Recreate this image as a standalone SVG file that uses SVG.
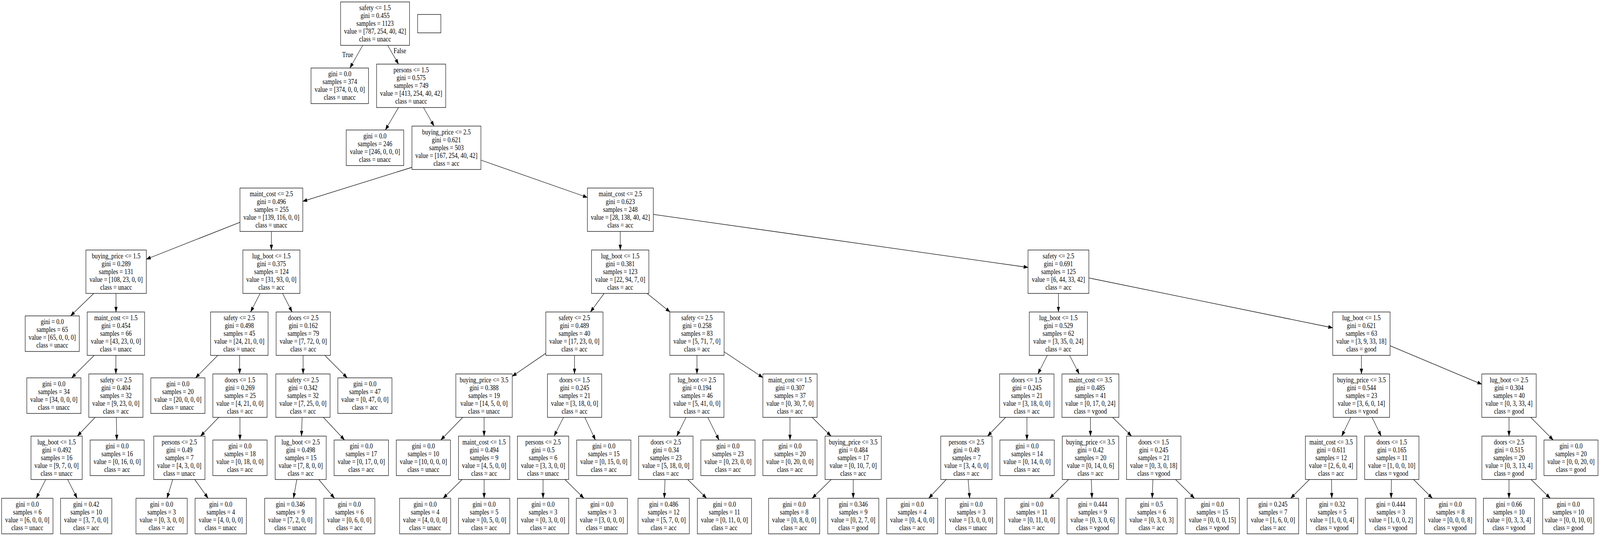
<svg xmlns="http://www.w3.org/2000/svg" width="4954" height="1371" viewBox="0 0 4954 1371" preserveAspectRatio="none">
<style>
:root{width:100vw;height:100vh}
rect{fill:#fff;stroke:#000;stroke-width:1.3}
text{font-family:"Liberation Serif","Times New Roman",serif;font-size:18.5px;text-anchor:middle;fill:#000}
.e line{stroke:#000;stroke-width:1.3;marker-end:url(#ah)}
</style>
<defs>
<marker id="ah" markerUnits="userSpaceOnUse" viewBox="0 0 14 10" markerWidth="14" markerHeight="10" refX="13.5" refY="5" orient="auto"><path d="M0,0 L14,5 L0,10 z" fill="#000"/></marker>
</defs>
<rect x="0" y="0" width="4954" height="1371" style="stroke:none"/>
<g id="edges" class="e">
<line x1="1123.1" y1="116" x2="1083.3" y2="174"/>
<line x1="1200.3" y1="116" x2="1234" y2="164"/>
<line x1="1233.8" y1="275" x2="1193.2" y2="332.5"/>
<line x1="1311.3" y1="275" x2="1344" y2="322.5"/>
<line x1="1275.5" y1="428" x2="937.5" y2="515"/>
<line x1="1489" y1="409.5" x2="1818.7" y2="505"/>
<line x1="743" y1="568.6" x2="453" y2="663"/>
<line x1="840.3" y1="592" x2="840.3" y2="639.5"/>
<line x1="1920.5" y1="592" x2="1920.5" y2="639.5"/>
<line x1="2022.8" y1="548.4" x2="3183" y2="684"/>
<line x1="290.3" y1="750.5" x2="218.5" y2="808"/>
<line x1="359.2" y1="750.5" x2="359.2" y2="798"/>
<line x1="805.5" y1="750.5" x2="775.8" y2="798"/>
<line x1="874.9" y1="750.5" x2="904.4" y2="798"/>
<line x1="1870.6" y1="750.5" x2="1828.1" y2="798"/>
<line x1="2003.5" y1="750.5" x2="2074.7" y2="798"/>
<line x1="3277.1" y1="750.5" x2="3277.1" y2="798"/>
<line x1="3371.4" y1="710.9" x2="4126.4" y2="838.5"/>
<line x1="291.6" y1="909" x2="221.9" y2="966.5"/>
<line x1="358.8" y1="909" x2="358.8" y2="956.5"/>
<line x1="674.4" y1="909" x2="605.4" y2="966.5"/>
<line x1="742" y1="909" x2="742" y2="956.5"/>
<line x1="938.5" y1="909" x2="938.5" y2="956.5"/>
<line x1="1005.8" y1="909" x2="1075" y2="966.5"/>
<line x1="1690" y1="903.6" x2="1586" y2="962.5"/>
<line x1="1778.8" y1="909" x2="1778.8" y2="956.5"/>
<line x1="2158" y1="909" x2="2158" y2="956.5"/>
<line x1="2242" y1="899.7" x2="2362" y2="965.8"/>
<line x1="3242.8" y1="909" x2="3213.5" y2="956.5"/>
<line x1="3311.7" y1="909" x2="3341.5" y2="956.5"/>
<line x1="4215.3" y1="909" x2="4215.3" y2="956.5"/>
<line x1="4304" y1="884.3" x2="4588" y2="982.8"/>
<line x1="294.5" y1="1067.5" x2="239.5" y2="1115.5"/>
<line x1="360.2" y1="1067.5" x2="361.6" y2="1125.5"/>
<line x1="677.3" y1="1067.5" x2="621" y2="1115.5"/>
<line x1="743" y1="1067.5" x2="743" y2="1125.5"/>
<line x1="935.5" y1="1067.5" x2="933.5" y2="1115.5"/>
<line x1="1001.2" y1="1067.5" x2="1066.8" y2="1125.5"/>
<line x1="1432.9" y1="1067.5" x2="1364.8" y2="1125.5"/>
<line x1="1498.9" y1="1067.5" x2="1498.9" y2="1115.5"/>
<line x1="1744.8" y1="1067.5" x2="1715.6" y2="1115.5"/>
<line x1="1810.7" y1="1067.5" x2="1843.6" y2="1125.5"/>
<line x1="2124.1" y1="1067.5" x2="2095.3" y2="1115.5"/>
<line x1="2191.4" y1="1067.5" x2="2226.3" y2="1125.5"/>
<line x1="2446" y1="1067.5" x2="2446" y2="1125.5"/>
<line x1="2514.5" y1="1067.5" x2="2573.1" y2="1115.5"/>
<line x1="3113.7" y1="1067.5" x2="3057.7" y2="1115.5"/>
<line x1="3179.6" y1="1067.5" x2="3179.6" y2="1125.5"/>
<line x1="3376.3" y1="1067.5" x2="3376.3" y2="1115.5"/>
<line x1="3444.8" y1="1067.5" x2="3503.6" y2="1115.5"/>
<line x1="4182.4" y1="1067.5" x2="4154.3" y2="1115.5"/>
<line x1="4248.2" y1="1067.5" x2="4276.4" y2="1115.5"/>
<line x1="4672.3" y1="1067.5" x2="4672.3" y2="1115.5"/>
<line x1="4739.4" y1="1067.5" x2="4809.1" y2="1125.5"/>
<line x1="141.5" y1="1226.5" x2="112.2" y2="1274.5"/>
<line x1="209.4" y1="1226.5" x2="238.9" y2="1274.5"/>
<line x1="534.8" y1="1226.5" x2="517.1" y2="1274.5"/>
<line x1="603" y1="1226.5" x2="644.3" y2="1274.5"/>
<line x1="919" y1="1226.5" x2="908.7" y2="1274.5"/>
<line x1="987.1" y1="1226.5" x2="1035.6" y2="1274.5"/>
<line x1="1430.9" y1="1226.5" x2="1372.1" y2="1274.5"/>
<line x1="1499" y1="1226.5" x2="1499" y2="1274.5"/>
<line x1="1681.4" y1="1226.5" x2="1681.4" y2="1274.5"/>
<line x1="1749.2" y1="1226.5" x2="1807.9" y2="1274.5"/>
<line x1="2059.1" y1="1226.5" x2="2056.9" y2="1274.5"/>
<line x1="2129.2" y1="1226.5" x2="2187.6" y2="1274.5"/>
<line x1="2573.6" y1="1226.5" x2="2514.7" y2="1274.5"/>
<line x1="2641.8" y1="1226.5" x2="2641.8" y2="1274.5"/>
<line x1="2929.7" y1="1226.5" x2="2875.6" y2="1274.5"/>
<line x1="2997.6" y1="1226.5" x2="3002.3" y2="1274.5"/>
<line x1="3308.7" y1="1226.5" x2="3250.2" y2="1274.5"/>
<line x1="3378.9" y1="1226.5" x2="3381.1" y2="1274.5"/>
<line x1="3569.7" y1="1226.5" x2="3567.5" y2="1274.5"/>
<line x1="3639.8" y1="1226.5" x2="3698.2" y2="1274.5"/>
<line x1="4054.4" y1="1226.5" x2="3996.3" y2="1274.5"/>
<line x1="4122.6" y1="1226.5" x2="4123.6" y2="1274.5"/>
<line x1="4308.2" y1="1226.5" x2="4307.3" y2="1274.5"/>
<line x1="4376.7" y1="1226.5" x2="4435" y2="1274.5"/>
<line x1="4672.2" y1="1226.5" x2="4672.2" y2="1274.5"/>
<line x1="4740.7" y1="1226.5" x2="4799.8" y2="1274.5"/>
</g>
<g id="edge-labels">
<text x="1076.5" y="146">True</text>
<text x="1238" y="136">False</text>
</g>
<g id="legend"><rect x="1293" y="37" width="72" height="47"/></g>
<g id="n0"><rect x="1054.5" y="5" width="213.5" height="111"/><text x="1161.25" y="26.5"><tspan x="1161.25">safety &lt;= 1.5</tspan><tspan x="1161.25" dy="20">gini = 0.455</tspan><tspan x="1161.25" dy="20">samples = 1123</tspan><tspan x="1161.25" dy="20">value = [787, 254, 40, 42]</tspan><tspan x="1161.25" dy="20">class = unacc</tspan></text></g>
<g id="n1"><rect x="963" y="174" width="178" height="91"/><text x="1052" y="195.5"><tspan x="1052">gini = 0.0</tspan><tspan x="1052" dy="20">samples = 374</tspan><tspan x="1052" dy="20">value = [374, 0, 0, 0]</tspan><tspan x="1052" dy="20">class = unacc</tspan></text></g>
<g id="n2"><rect x="1166" y="164" width="214" height="111"/><text x="1273" y="185.5"><tspan x="1273">persons &lt;= 1.5</tspan><tspan x="1273" dy="20">gini = 0.575</tspan><tspan x="1273" dy="20">samples = 749</tspan><tspan x="1273" dy="20">value = [413, 254, 40, 42]</tspan><tspan x="1273" dy="20">class = unacc</tspan></text></g>
<g id="n3"><rect x="1072" y="332.5" width="178" height="91"/><text x="1161" y="354"><tspan x="1161">gini = 0.0</tspan><tspan x="1161" dy="20">samples = 246</tspan><tspan x="1161" dy="20">value = [246, 0, 0, 0]</tspan><tspan x="1161" dy="20">class = unacc</tspan></text></g>
<g id="n4"><rect x="1275.5" y="322.5" width="213.5" height="111"/><text x="1382.25" y="344"><tspan x="1382.25">buying_price &lt;= 2.5</tspan><tspan x="1382.25" dy="20">gini = 0.621</tspan><tspan x="1382.25" dy="20">samples = 503</tspan><tspan x="1382.25" dy="20">value = [167, 254, 40, 42]</tspan><tspan x="1382.25" dy="20">class = acc</tspan></text></g>
<g id="n5"><rect x="743" y="481" width="194.5" height="111"/><text x="840.25" y="502.5"><tspan x="840.25">maint_cost &lt;= 2.5</tspan><tspan x="840.25" dy="20">gini = 0.496</tspan><tspan x="840.25" dy="20">samples = 255</tspan><tspan x="840.25" dy="20">value = [139, 116, 0, 0]</tspan><tspan x="840.25" dy="20">class = unacc</tspan></text></g>
<g id="n6"><rect x="1818.7" y="481" width="204.1" height="111"/><text x="1920.75" y="502.5"><tspan x="1920.75">maint_cost &lt;= 2.5</tspan><tspan x="1920.75" dy="20">gini = 0.623</tspan><tspan x="1920.75" dy="20">samples = 248</tspan><tspan x="1920.75" dy="20">value = [28, 138, 40, 42]</tspan><tspan x="1920.75" dy="20">class = acc</tspan></text></g>
<g id="n7"><rect x="266" y="639.5" width="187" height="111"/><text x="359.5" y="661"><tspan x="359.5">buying_price &lt;= 1.5</tspan><tspan x="359.5" dy="20">gini = 0.289</tspan><tspan x="359.5" dy="20">samples = 131</tspan><tspan x="359.5" dy="20">value = [108, 23, 0, 0]</tspan><tspan x="359.5" dy="20">class = unacc</tspan></text></g>
<g id="n8"><rect x="752" y="639.5" width="176.6" height="111"/><text x="840.3" y="661"><tspan x="840.3">lug_boot &lt;= 1.5</tspan><tspan x="840.3" dy="20">gini = 0.375</tspan><tspan x="840.3" dy="20">samples = 124</tspan><tspan x="840.3" dy="20">value = [31, 93, 0, 0]</tspan><tspan x="840.3" dy="20">class = acc</tspan></text></g>
<g id="n9"><rect x="1831.5" y="639.5" width="177.5" height="111"/><text x="1920.25" y="661"><tspan x="1920.25">lug_boot &lt;= 1.5</tspan><tspan x="1920.25" dy="20">gini = 0.381</tspan><tspan x="1920.25" dy="20">samples = 123</tspan><tspan x="1920.25" dy="20">value = [22, 94, 7, 0]</tspan><tspan x="1920.25" dy="20">class = acc</tspan></text></g>
<g id="n10"><rect x="3183" y="639.5" width="188.4" height="111"/><text x="3277.2" y="661"><tspan x="3277.2">safety &lt;= 2.5</tspan><tspan x="3277.2" dy="20">gini = 0.691</tspan><tspan x="3277.2" dy="20">samples = 125</tspan><tspan x="3277.2" dy="20">value = [6, 44, 33, 42]</tspan><tspan x="3277.2" dy="20">class = acc</tspan></text></g>
<g id="n11"><rect x="78" y="808" width="167.5" height="91"/><text x="161.75" y="829.5"><tspan x="161.75">gini = 0.0</tspan><tspan x="161.75" dy="20">samples = 65</tspan><tspan x="161.75" dy="20">value = [65, 0, 0, 0]</tspan><tspan x="161.75" dy="20">class = unacc</tspan></text></g>
<g id="n12"><rect x="270" y="798" width="177.7" height="111"/><text x="358.85" y="819.5"><tspan x="358.85">maint_cost &lt;= 1.5</tspan><tspan x="358.85" dy="20">gini = 0.454</tspan><tspan x="358.85" dy="20">samples = 66</tspan><tspan x="358.85" dy="20">value = [43, 23, 0, 0]</tspan><tspan x="358.85" dy="20">class = unacc</tspan></text></g>
<g id="n13"><rect x="652" y="798" width="178" height="111"/><text x="741" y="819.5"><tspan x="741">safety &lt;= 2.5</tspan><tspan x="741" dy="20">gini = 0.498</tspan><tspan x="741" dy="20">samples = 45</tspan><tspan x="741" dy="20">value = [24, 21, 0, 0]</tspan><tspan x="741" dy="20">class = unacc</tspan></text></g>
<g id="n14"><rect x="855" y="798" width="168" height="111"/><text x="939" y="819.5"><tspan x="939">doors &lt;= 2.5</tspan><tspan x="939" dy="20">gini = 0.162</tspan><tspan x="939" dy="20">samples = 79</tspan><tspan x="939" dy="20">value = [7, 72, 0, 0]</tspan><tspan x="939" dy="20">class = acc</tspan></text></g>
<g id="n15"><rect x="1690" y="798" width="177" height="111"/><text x="1778.5" y="819.5"><tspan x="1778.5">safety &lt;= 2.5</tspan><tspan x="1778.5" dy="20">gini = 0.489</tspan><tspan x="1778.5" dy="20">samples = 40</tspan><tspan x="1778.5" dy="20">value = [17, 23, 0, 0]</tspan><tspan x="1778.5" dy="20">class = acc</tspan></text></g>
<g id="n16"><rect x="2074" y="798" width="168" height="111"/><text x="2158" y="819.5"><tspan x="2158">safety &lt;= 2.5</tspan><tspan x="2158" dy="20">gini = 0.258</tspan><tspan x="2158" dy="20">samples = 83</tspan><tspan x="2158" dy="20">value = [5, 71, 7, 0]</tspan><tspan x="2158" dy="20">class = acc</tspan></text></g>
<g id="n17"><rect x="3187" y="798" width="180" height="111"/><text x="3277" y="819.5"><tspan x="3277">lug_boot &lt;= 1.5</tspan><tspan x="3277" dy="20">gini = 0.529</tspan><tspan x="3277" dy="20">samples = 62</tspan><tspan x="3277" dy="20">value = [3, 35, 0, 24]</tspan><tspan x="3277" dy="20">class = acc</tspan></text></g>
<g id="n18"><rect x="4126.4" y="798" width="177.6" height="111"/><text x="4215.2" y="819.5"><tspan x="4215.2">lug_boot &lt;= 1.5</tspan><tspan x="4215.2" dy="20">gini = 0.621</tspan><tspan x="4215.2" dy="20">samples = 63</tspan><tspan x="4215.2" dy="20">value = [3, 9, 33, 18]</tspan><tspan x="4215.2" dy="20">class = good</tspan></text></g>
<g id="n19"><rect x="83" y="966.5" width="167.6" height="91"/><text x="166.8" y="988"><tspan x="166.8">gini = 0.0</tspan><tspan x="166.8" dy="20">samples = 34</tspan><tspan x="166.8" dy="20">value = [34, 0, 0, 0]</tspan><tspan x="166.8" dy="20">class = unacc</tspan></text></g>
<g id="n20"><rect x="275" y="956.5" width="167.6" height="111"/><text x="358.8" y="978"><tspan x="358.8">safety &lt;= 2.5</tspan><tspan x="358.8" dy="20">gini = 0.404</tspan><tspan x="358.8" dy="20">samples = 32</tspan><tspan x="358.8" dy="20">value = [9, 23, 0, 0]</tspan><tspan x="358.8" dy="20">class = acc</tspan></text></g>
<g id="n21"><rect x="467" y="966.5" width="167.6" height="91"/><text x="550.8" y="988"><tspan x="550.8">gini = 0.0</tspan><tspan x="550.8" dy="20">samples = 20</tspan><tspan x="550.8" dy="20">value = [20, 0, 0, 0]</tspan><tspan x="550.8" dy="20">class = unacc</tspan></text></g>
<g id="n22"><rect x="659" y="956.5" width="168" height="111"/><text x="743" y="978"><tspan x="743">doors &lt;= 1.5</tspan><tspan x="743" dy="20">gini = 0.269</tspan><tspan x="743" dy="20">samples = 25</tspan><tspan x="743" dy="20">value = [4, 21, 0, 0]</tspan><tspan x="743" dy="20">class = acc</tspan></text></g>
<g id="n23"><rect x="854" y="956.5" width="168" height="111"/><text x="938" y="978"><tspan x="938">safety &lt;= 2.5</tspan><tspan x="938" dy="20">gini = 0.342</tspan><tspan x="938" dy="20">samples = 32</tspan><tspan x="938" dy="20">value = [7, 25, 0, 0]</tspan><tspan x="938" dy="20">class = acc</tspan></text></g>
<g id="n24"><rect x="1046" y="966.5" width="167.6" height="91"/><text x="1129.8" y="988"><tspan x="1129.8">gini = 0.0</tspan><tspan x="1129.8" dy="20">samples = 47</tspan><tspan x="1129.8" dy="20">value = [0, 47, 0, 0]</tspan><tspan x="1129.8" dy="20">class = acc</tspan></text></g>
<g id="n25"><rect x="1411.4" y="956.5" width="174.6" height="111"/><text x="1498.7" y="978"><tspan x="1498.7">buying_price &lt;= 3.5</tspan><tspan x="1498.7" dy="20">gini = 0.388</tspan><tspan x="1498.7" dy="20">samples = 19</tspan><tspan x="1498.7" dy="20">value = [14, 5, 0, 0]</tspan><tspan x="1498.7" dy="20">class = unacc</tspan></text></g>
<g id="n26"><rect x="1695" y="956.5" width="168" height="111"/><text x="1779" y="978"><tspan x="1779">doors &lt;= 1.5</tspan><tspan x="1779" dy="20">gini = 0.245</tspan><tspan x="1779" dy="20">samples = 21</tspan><tspan x="1779" dy="20">value = [3, 18, 0, 0]</tspan><tspan x="1779" dy="20">class = acc</tspan></text></g>
<g id="n27"><rect x="2074" y="956.5" width="167.5" height="111"/><text x="2157.75" y="978"><tspan x="2157.75">lug_boot &lt;= 2.5</tspan><tspan x="2157.75" dy="20">gini = 0.194</tspan><tspan x="2157.75" dy="20">samples = 46</tspan><tspan x="2157.75" dy="20">value = [5, 41, 0, 0]</tspan><tspan x="2157.75" dy="20">class = acc</tspan></text></g>
<g id="n28"><rect x="2362" y="956.5" width="168" height="111"/><text x="2446" y="978"><tspan x="2446">maint_cost &lt;= 1.5</tspan><tspan x="2446" dy="20">gini = 0.307</tspan><tspan x="2446" dy="20">samples = 37</tspan><tspan x="2446" dy="20">value = [0, 30, 7, 0]</tspan><tspan x="2446" dy="20">class = acc</tspan></text></g>
<g id="n29"><rect x="3095" y="956.5" width="168.5" height="111"/><text x="3179.25" y="978"><tspan x="3179.25">doors &lt;= 1.5</tspan><tspan x="3179.25" dy="20">gini = 0.245</tspan><tspan x="3179.25" dy="20">samples = 21</tspan><tspan x="3179.25" dy="20">value = [3, 18, 0, 0]</tspan><tspan x="3179.25" dy="20">class = acc</tspan></text></g>
<g id="n30"><rect x="3288" y="956.5" width="176.4" height="111"/><text x="3376.2" y="978"><tspan x="3376.2">maint_cost &lt;= 3.5</tspan><tspan x="3376.2" dy="20">gini = 0.485</tspan><tspan x="3376.2" dy="20">samples = 41</tspan><tspan x="3376.2" dy="20">value = [0, 17, 0, 24]</tspan><tspan x="3376.2" dy="20">class = vgood</tspan></text></g>
<g id="n31"><rect x="4128" y="956.5" width="174.6" height="111"/><text x="4215.3" y="978"><tspan x="4215.3">buying_price &lt;= 3.5</tspan><tspan x="4215.3" dy="20">gini = 0.544</tspan><tspan x="4215.3" dy="20">samples = 23</tspan><tspan x="4215.3" dy="20">value = [3, 6, 0, 14]</tspan><tspan x="4215.3" dy="20">class = vgood</tspan></text></g>
<g id="n32"><rect x="4588" y="956.5" width="168.4" height="111"/><text x="4672.2" y="978"><tspan x="4672.2">lug_boot &lt;= 2.5</tspan><tspan x="4672.2" dy="20">gini = 0.304</tspan><tspan x="4672.2" dy="20">samples = 40</tspan><tspan x="4672.2" dy="20">value = [0, 3, 33, 4]</tspan><tspan x="4672.2" dy="20">class = good</tspan></text></g>
<g id="n33"><rect x="96" y="1115.5" width="158.5" height="111"/><text x="175.25" y="1137"><tspan x="175.25">lug_boot &lt;= 1.5</tspan><tspan x="175.25" dy="20">gini = 0.492</tspan><tspan x="175.25" dy="20">samples = 16</tspan><tspan x="175.25" dy="20">value = [9, 7, 0, 0]</tspan><tspan x="175.25" dy="20">class = unacc</tspan></text></g>
<g id="n34"><rect x="279" y="1125.5" width="167.4" height="91"/><text x="362.7" y="1147"><tspan x="362.7">gini = 0.0</tspan><tspan x="362.7" dy="20">samples = 16</tspan><tspan x="362.7" dy="20">value = [0, 16, 0, 0]</tspan><tspan x="362.7" dy="20">class = acc</tspan></text></g>
<g id="n35"><rect x="476" y="1115.5" width="158.6" height="111"/><text x="555.3" y="1137"><tspan x="555.3">persons &lt;= 2.5</tspan><tspan x="555.3" dy="20">gini = 0.49</tspan><tspan x="555.3" dy="20">samples = 7</tspan><tspan x="555.3" dy="20">value = [4, 3, 0, 0]</tspan><tspan x="555.3" dy="20">class = unacc</tspan></text></g>
<g id="n36"><rect x="659" y="1125.5" width="168" height="91"/><text x="743" y="1147"><tspan x="743">gini = 0.0</tspan><tspan x="743" dy="20">samples = 18</tspan><tspan x="743" dy="20">value = [0, 18, 0, 0]</tspan><tspan x="743" dy="20">class = acc</tspan></text></g>
<g id="n37"><rect x="852" y="1115.5" width="158" height="111"/><text x="931" y="1137"><tspan x="931">lug_boot &lt;= 2.5</tspan><tspan x="931" dy="20">gini = 0.498</tspan><tspan x="931" dy="20">samples = 15</tspan><tspan x="931" dy="20">value = [7, 8, 0, 0]</tspan><tspan x="931" dy="20">class = acc</tspan></text></g>
<g id="n38"><rect x="1034.4" y="1125.5" width="168.4" height="91"/><text x="1118.6" y="1147"><tspan x="1118.6">gini = 0.0</tspan><tspan x="1118.6" dy="20">samples = 17</tspan><tspan x="1118.6" dy="20">value = [0, 17, 0, 0]</tspan><tspan x="1118.6" dy="20">class = acc</tspan></text></g>
<g id="n39"><rect x="1227" y="1125.5" width="167.8" height="91"/><text x="1310.9" y="1147"><tspan x="1310.9">gini = 0.0</tspan><tspan x="1310.9" dy="20">samples = 10</tspan><tspan x="1310.9" dy="20">value = [10, 0, 0, 0]</tspan><tspan x="1310.9" dy="20">class = unacc</tspan></text></g>
<g id="n40"><rect x="1419.6" y="1115.5" width="158.8" height="111"/><text x="1499" y="1137"><tspan x="1499">maint_cost &lt;= 1.5</tspan><tspan x="1499" dy="20">gini = 0.494</tspan><tspan x="1499" dy="20">samples = 9</tspan><tspan x="1499" dy="20">value = [4, 5, 0, 0]</tspan><tspan x="1499" dy="20">class = acc</tspan></text></g>
<g id="n41"><rect x="1602" y="1115.5" width="158.8" height="111"/><text x="1681.4" y="1137"><tspan x="1681.4">persons &lt;= 2.5</tspan><tspan x="1681.4" dy="20">gini = 0.5</tspan><tspan x="1681.4" dy="20">samples = 6</tspan><tspan x="1681.4" dy="20">value = [3, 3, 0, 0]</tspan><tspan x="1681.4" dy="20">class = unacc</tspan></text></g>
<g id="n42"><rect x="1785.7" y="1125.5" width="167.7" height="91"/><text x="1869.55" y="1147"><tspan x="1869.55">gini = 0.0</tspan><tspan x="1869.55" dy="20">samples = 15</tspan><tspan x="1869.55" dy="20">value = [0, 15, 0, 0]</tspan><tspan x="1869.55" dy="20">class = acc</tspan></text></g>
<g id="n43"><rect x="1977.4" y="1115.5" width="168.4" height="111"/><text x="2061.6" y="1137"><tspan x="2061.6">doors &lt;= 2.5</tspan><tspan x="2061.6" dy="20">gini = 0.34</tspan><tspan x="2061.6" dy="20">samples = 23</tspan><tspan x="2061.6" dy="20">value = [5, 18, 0, 0]</tspan><tspan x="2061.6" dy="20">class = acc</tspan></text></g>
<g id="n44"><rect x="2170" y="1125.5" width="167.8" height="91"/><text x="2253.9" y="1147"><tspan x="2253.9">gini = 0.0</tspan><tspan x="2253.9" dy="20">samples = 23</tspan><tspan x="2253.9" dy="20">value = [0, 23, 0, 0]</tspan><tspan x="2253.9" dy="20">class = acc</tspan></text></g>
<g id="n45"><rect x="2362" y="1125.5" width="167.7" height="91"/><text x="2445.85" y="1147"><tspan x="2445.85">gini = 0.0</tspan><tspan x="2445.85" dy="20">samples = 20</tspan><tspan x="2445.85" dy="20">value = [0, 20, 0, 0]</tspan><tspan x="2445.85" dy="20">class = acc</tspan></text></g>
<g id="n46"><rect x="2554.6" y="1115.5" width="174.1" height="111"/><text x="2641.65" y="1137"><tspan x="2641.65">buying_price &lt;= 3.5</tspan><tspan x="2641.65" dy="20">gini = 0.484</tspan><tspan x="2641.65" dy="20">samples = 17</tspan><tspan x="2641.65" dy="20">value = [0, 10, 7, 0]</tspan><tspan x="2641.65" dy="20">class = acc</tspan></text></g>
<g id="n47"><rect x="2912.8" y="1115.5" width="158.8" height="111"/><text x="2992.2" y="1137"><tspan x="2992.2">persons &lt;= 2.5</tspan><tspan x="2992.2" dy="20">gini = 0.49</tspan><tspan x="2992.2" dy="20">samples = 7</tspan><tspan x="2992.2" dy="20">value = [3, 4, 0, 0]</tspan><tspan x="2992.2" dy="20">class = acc</tspan></text></g>
<g id="n48"><rect x="3095.8" y="1125.5" width="168.4" height="91"/><text x="3180" y="1147"><tspan x="3180">gini = 0.0</tspan><tspan x="3180" dy="20">samples = 14</tspan><tspan x="3180" dy="20">value = [0, 14, 0, 0]</tspan><tspan x="3180" dy="20">class = acc</tspan></text></g>
<g id="n49"><rect x="3289" y="1115.5" width="174.8" height="111"/><text x="3376.4" y="1137"><tspan x="3376.4">buying_price &lt;= 3.5</tspan><tspan x="3376.4" dy="20">gini = 0.42</tspan><tspan x="3376.4" dy="20">samples = 20</tspan><tspan x="3376.4" dy="20">value = [0, 14, 0, 6]</tspan><tspan x="3376.4" dy="20">class = acc</tspan></text></g>
<g id="n50"><rect x="3488" y="1115.5" width="168.4" height="111"/><text x="3572.2" y="1137"><tspan x="3572.2">doors &lt;= 1.5</tspan><tspan x="3572.2" dy="20">gini = 0.245</tspan><tspan x="3572.2" dy="20">samples = 21</tspan><tspan x="3572.2" dy="20">value = [0, 3, 0, 18]</tspan><tspan x="3572.2" dy="20">class = vgood</tspan></text></g>
<g id="n51"><rect x="4041.8" y="1115.5" width="159.3" height="111"/><text x="4121.45" y="1137"><tspan x="4121.45">maint_cost &lt;= 3.5</tspan><tspan x="4121.45" dy="20">gini = 0.611</tspan><tspan x="4121.45" dy="20">samples = 12</tspan><tspan x="4121.45" dy="20">value = [2, 6, 0, 4]</tspan><tspan x="4121.45" dy="20">class = acc</tspan></text></g>
<g id="n52"><rect x="4225.3" y="1115.5" width="168.1" height="111"/><text x="4309.35" y="1137"><tspan x="4309.35">doors &lt;= 1.5</tspan><tspan x="4309.35" dy="20">gini = 0.165</tspan><tspan x="4309.35" dy="20">samples = 11</tspan><tspan x="4309.35" dy="20">value = [1, 0, 0, 10]</tspan><tspan x="4309.35" dy="20">class = vgood</tspan></text></g>
<g id="n53"><rect x="4588.3" y="1115.5" width="168.1" height="111"/><text x="4672.35" y="1137"><tspan x="4672.35">doors &lt;= 2.5</tspan><tspan x="4672.35" dy="20">gini = 0.515</tspan><tspan x="4672.35" dy="20">samples = 20</tspan><tspan x="4672.35" dy="20">value = [0, 3, 13, 4]</tspan><tspan x="4672.35" dy="20">class = good</tspan></text></g>
<g id="n54"><rect x="4780.5" y="1125.5" width="167.4" height="91"/><text x="4864.2" y="1147"><tspan x="4864.2">gini = 0.0</tspan><tspan x="4864.2" dy="20">samples = 20</tspan><tspan x="4864.2" dy="20">value = [0, 0, 20, 0]</tspan><tspan x="4864.2" dy="20">class = good</tspan></text></g>
<g id="n55"><rect x="5" y="1274.5" width="159" height="91"/><text x="84.5" y="1296"><tspan x="84.5">gini = 0.0</tspan><tspan x="84.5" dy="20">samples = 6</tspan><tspan x="84.5" dy="20">value = [6, 0, 0, 0]</tspan><tspan x="84.5" dy="20">class = unacc</tspan></text></g>
<g id="n56"><rect x="187.5" y="1274.5" width="158.8" height="91"/><text x="266.9" y="1296"><tspan x="266.9">gini = 0.42</tspan><tspan x="266.9" dy="20">samples = 10</tspan><tspan x="266.9" dy="20">value = [3, 7, 0, 0]</tspan><tspan x="266.9" dy="20">class = acc</tspan></text></g>
<g id="n57"><rect x="421" y="1274.5" width="158.7" height="91"/><text x="500.35" y="1296"><tspan x="500.35">gini = 0.0</tspan><tspan x="500.35" dy="20">samples = 3</tspan><tspan x="500.35" dy="20">value = [0, 3, 0, 0]</tspan><tspan x="500.35" dy="20">class = acc</tspan></text></g>
<g id="n58"><rect x="604" y="1274.5" width="158.8" height="91"/><text x="683.4" y="1296"><tspan x="683.4">gini = 0.0</tspan><tspan x="683.4" dy="20">samples = 4</tspan><tspan x="683.4" dy="20">value = [4, 0, 0, 0]</tspan><tspan x="683.4" dy="20">class = unacc</tspan></text></g>
<g id="n59"><rect x="819.5" y="1274.5" width="158.8" height="91"/><text x="898.9" y="1296"><tspan x="898.9">gini = 0.346</tspan><tspan x="898.9" dy="20">samples = 9</tspan><tspan x="898.9" dy="20">value = [7, 2, 0, 0]</tspan><tspan x="898.9" dy="20">class = unacc</tspan></text></g>
<g id="n60"><rect x="1002.6" y="1274.5" width="158.1" height="91"/><text x="1081.65" y="1296"><tspan x="1081.65">gini = 0.0</tspan><tspan x="1081.65" dy="20">samples = 6</tspan><tspan x="1081.65" dy="20">value = [0, 6, 0, 0]</tspan><tspan x="1081.65" dy="20">class = acc</tspan></text></g>
<g id="n61"><rect x="1237.2" y="1274.5" width="158.2" height="91"/><text x="1316.3" y="1296"><tspan x="1316.3">gini = 0.0</tspan><tspan x="1316.3" dy="20">samples = 4</tspan><tspan x="1316.3" dy="20">value = [4, 0, 0, 0]</tspan><tspan x="1316.3" dy="20">class = unacc</tspan></text></g>
<g id="n62"><rect x="1419.6" y="1274.5" width="158.8" height="91"/><text x="1499" y="1296"><tspan x="1499">gini = 0.0</tspan><tspan x="1499" dy="20">samples = 5</tspan><tspan x="1499" dy="20">value = [0, 5, 0, 0]</tspan><tspan x="1499" dy="20">class = acc</tspan></text></g>
<g id="n63"><rect x="1602" y="1274.5" width="158.8" height="91"/><text x="1681.4" y="1296"><tspan x="1681.4">gini = 0.0</tspan><tspan x="1681.4" dy="20">samples = 3</tspan><tspan x="1681.4" dy="20">value = [0, 3, 0, 0]</tspan><tspan x="1681.4" dy="20">class = acc</tspan></text></g>
<g id="n64"><rect x="1784.4" y="1274.5" width="158.2" height="91"/><text x="1863.5" y="1296"><tspan x="1863.5">gini = 0.0</tspan><tspan x="1863.5" dy="20">samples = 3</tspan><tspan x="1863.5" dy="20">value = [3, 0, 0, 0]</tspan><tspan x="1863.5" dy="20">class = unacc</tspan></text></g>
<g id="n65"><rect x="1975.5" y="1274.5" width="158.8" height="91"/><text x="2054.9" y="1296"><tspan x="2054.9">gini = 0.486</tspan><tspan x="2054.9" dy="20">samples = 12</tspan><tspan x="2054.9" dy="20">value = [5, 7, 0, 0]</tspan><tspan x="2054.9" dy="20">class = acc</tspan></text></g>
<g id="n66"><rect x="2159.2" y="1274.5" width="167.7" height="91"/><text x="2243.05" y="1296"><tspan x="2243.05">gini = 0.0</tspan><tspan x="2243.05" dy="20">samples = 11</tspan><tspan x="2243.05" dy="20">value = [0, 11, 0, 0]</tspan><tspan x="2243.05" dy="20">class = acc</tspan></text></g>
<g id="n67"><rect x="2379.8" y="1274.5" width="158.2" height="91"/><text x="2458.9" y="1296"><tspan x="2458.9">gini = 0.0</tspan><tspan x="2458.9" dy="20">samples = 8</tspan><tspan x="2458.9" dy="20">value = [0, 8, 0, 0]</tspan><tspan x="2458.9" dy="20">class = acc</tspan></text></g>
<g id="n68"><rect x="2562.9" y="1274.5" width="158.1" height="91"/><text x="2641.95" y="1296"><tspan x="2641.95">gini = 0.346</tspan><tspan x="2641.95" dy="20">samples = 9</tspan><tspan x="2641.95" dy="20">value = [0, 2, 7, 0]</tspan><tspan x="2641.95" dy="20">class = good</tspan></text></g>
<g id="n69"><rect x="2745.3" y="1274.5" width="158.1" height="91"/><text x="2824.35" y="1296"><tspan x="2824.35">gini = 0.0</tspan><tspan x="2824.35" dy="20">samples = 4</tspan><tspan x="2824.35" dy="20">value = [0, 4, 0, 0]</tspan><tspan x="2824.35" dy="20">class = acc</tspan></text></g>
<g id="n70"><rect x="2927.4" y="1274.5" width="158.8" height="91"/><text x="3006.8" y="1296"><tspan x="3006.8">gini = 0.0</tspan><tspan x="3006.8" dy="20">samples = 3</tspan><tspan x="3006.8" dy="20">value = [3, 0, 0, 0]</tspan><tspan x="3006.8" dy="20">class = unacc</tspan></text></g>
<g id="n71"><rect x="3110.5" y="1274.5" width="168.3" height="91"/><text x="3194.65" y="1296"><tspan x="3194.65">gini = 0.0</tspan><tspan x="3194.65" dy="20">samples = 11</tspan><tspan x="3194.65" dy="20">value = [0, 11, 0, 0]</tspan><tspan x="3194.65" dy="20">class = acc</tspan></text></g>
<g id="n72"><rect x="3303.7" y="1274.5" width="158.8" height="91"/><text x="3383.1" y="1296"><tspan x="3383.1">gini = 0.444</tspan><tspan x="3383.1" dy="20">samples = 9</tspan><tspan x="3383.1" dy="20">value = [0, 3, 0, 6]</tspan><tspan x="3383.1" dy="20">class = vgood</tspan></text></g>
<g id="n73"><rect x="3486" y="1274.5" width="158.9" height="91"/><text x="3565.45" y="1296"><tspan x="3565.45">gini = 0.5</tspan><tspan x="3565.45" dy="20">samples = 6</tspan><tspan x="3565.45" dy="20">value = [0, 3, 0, 3]</tspan><tspan x="3565.45" dy="20">class = acc</tspan></text></g>
<g id="n74"><rect x="3669.8" y="1274.5" width="167.7" height="91"/><text x="3753.65" y="1296"><tspan x="3753.65">gini = 0.0</tspan><tspan x="3753.65" dy="20">samples = 15</tspan><tspan x="3753.65" dy="20">value = [0, 0, 0, 15]</tspan><tspan x="3753.65" dy="20">class = vgood</tspan></text></g>
<g id="n75"><rect x="3861.7" y="1274.5" width="159.3" height="91"/><text x="3941.35" y="1296"><tspan x="3941.35">gini = 0.245</tspan><tspan x="3941.35" dy="20">samples = 7</tspan><tspan x="3941.35" dy="20">value = [1, 6, 0, 0]</tspan><tspan x="3941.35" dy="20">class = acc</tspan></text></g>
<g id="n76"><rect x="4045.2" y="1274.5" width="158.6" height="91"/><text x="4124.5" y="1296"><tspan x="4124.5">gini = 0.32</tspan><tspan x="4124.5" dy="20">samples = 5</tspan><tspan x="4124.5" dy="20">value = [1, 0, 0, 4]</tspan><tspan x="4124.5" dy="20">class = vgood</tspan></text></g>
<g id="n77"><rect x="4227.4" y="1274.5" width="157.9" height="91"/><text x="4306.35" y="1296"><tspan x="4306.35">gini = 0.444</tspan><tspan x="4306.35" dy="20">samples = 3</tspan><tspan x="4306.35" dy="20">value = [1, 0, 0, 2]</tspan><tspan x="4306.35" dy="20">class = vgood</tspan></text></g>
<g id="n78"><rect x="4410.9" y="1274.5" width="158.6" height="91"/><text x="4490.2" y="1296"><tspan x="4490.2">gini = 0.0</tspan><tspan x="4490.2" dy="20">samples = 8</tspan><tspan x="4490.2" dy="20">value = [0, 0, 0, 8]</tspan><tspan x="4490.2" dy="20">class = vgood</tspan></text></g>
<g id="n79"><rect x="4593" y="1274.5" width="158" height="91"/><text x="4672" y="1296"><tspan x="4672">gini = 0.66</tspan><tspan x="4672" dy="20">samples = 10</tspan><tspan x="4672" dy="20">value = [0, 3, 3, 4]</tspan><tspan x="4672" dy="20">class = vgood</tspan></text></g>
<g id="n80"><rect x="4776.5" y="1274.5" width="158.5" height="91"/><text x="4855.75" y="1296"><tspan x="4855.75">gini = 0.0</tspan><tspan x="4855.75" dy="20">samples = 10</tspan><tspan x="4855.75" dy="20">value = [0, 0, 10, 0]</tspan><tspan x="4855.75" dy="20">class = good</tspan></text></g>
</svg>
